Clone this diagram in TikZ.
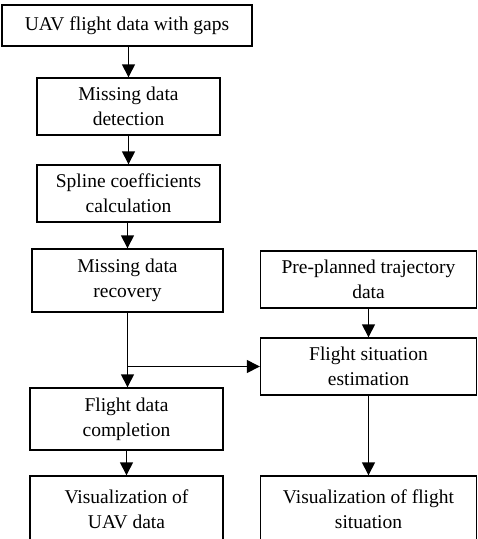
\documentclass[tikz,border=0pt]{standalone}
\usepackage{fontspec}
\setmainfont{Liberation Serif}
\usetikzlibrary{arrows.meta}

\begin{document}
\begin{tikzpicture}[x=1pt,y=-1pt,
  stage/.style={draw, line width=1.4pt, align=center, inner sep=0pt,
    font=\fontsize{19.5}{25}\selectfont},
  flow/.style={line width=1.4pt, -{Triangle[length=13pt,width=13pt]}}]
 \useasboundingbox (0,0) rectangle (478,539);
 \clip (0,0) rectangle (478,539);

 % left column
 \node[stage, minimum width=250, minimum height=41] (gaps) at (127,25.5) {UAV flight data with gaps};
 \node[stage, minimum width=183, minimum height=57] (detect) at (128.5,106.5) {Missing data\\detection};
 \node[stage, minimum width=183, minimum height=57] (spline) at (128.5,193.5) {Spline coefficients\\calculation};
 \node[stage, minimum width=191, minimum height=63] (recover) at (127.5,280.5) {Missing data\\recovery};
 \node[stage, minimum width=193, minimum height=62] (complete) at (126.5,419) {Flight data\\completion};
 \node[stage, minimum width=193, minimum height=66] (visuav) at (126.5,509) {Visualization of\\UAV data};

 % right column
 \node[stage, minimum width=216, minimum height=57] (plan) at (368.5,279.5) {Pre-planned trajectory\\data};
 \node[stage, minimum width=216, minimum height=57] (estim) at (368.5,366.5) {Flight situation\\estimation};
 \node[stage, minimum width=216, minimum height=66] (vissit) at (368.5,509) {Visualization of flight\\situation};

 \draw[flow] (gaps.south -| detect.north) -- (detect.north);
 \draw[flow] (detect) -- (spline);
 \draw[flow] (spline.south -| recover.north) -- (recover.north);
 \draw[flow] (recover.south) -- (recover.south |- complete.north);
 \draw[flow] (recover.south |- estim.west) -- (estim.west);
 \draw[flow] (complete.south -| visuav.north) -- (visuav.north);
 \draw[flow] (plan) -- (estim);
 \draw[flow] (estim) -- (vissit);
\end{tikzpicture}
\end{document}
